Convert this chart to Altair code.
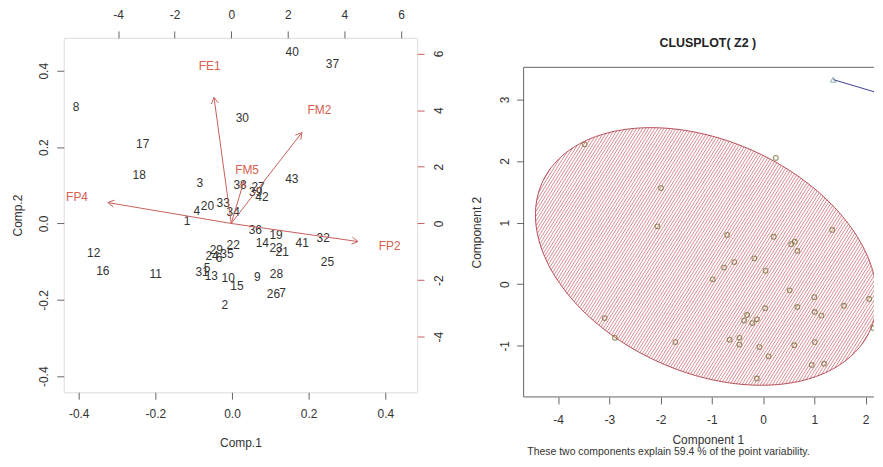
import altair as alt
import numpy as np
import pandas as pd

# ---------------- data: biplot (left) ----------------
obs_ids = [str(i) for i in range(1, 44)]
comp1 = [-0.117, -0.019, -0.084, -0.092, -0.065, -0.034, 0.132, -0.407, 0.066, -0.010,
         -0.199, -0.361, -0.054, 0.079, 0.013, -0.337, -0.233, -0.242, 0.115, -0.064,
         0.131, 0.003, 0.115, -0.052, 0.249, 0.108, 0.068, 0.116, -0.041, 0.027,
         -0.078, 0.238, -0.023, 0.003, -0.013, 0.061, 0.262, 0.021, 0.062, 0.157,
         0.183, 0.078, 0.156]
comp2 = [0.007, -0.213, 0.105, 0.033, -0.117, -0.091, -0.181, 0.306, -0.139, -0.144,
         -0.132, -0.078, -0.138, -0.052, -0.164, -0.124, 0.209, 0.126, -0.031, 0.046,
         -0.074, -0.057, -0.065, -0.085, -0.100, -0.185, 0.096, -0.132, -0.070, 0.276,
         -0.126, -0.039, 0.054, 0.030, -0.080, -0.017, 0.418, 0.102, 0.082, 0.448,
         -0.052, 0.069, 0.116]

var_names = ["FE1", "FM2", "FM5", "FP4", "FP2"]
load1 = [-0.76, 3.12, 0.56, -5.45, 5.60]
load2 = [5.56, 4.01, 1.87, 0.92, -0.80]

# ---------------- data: clusplot (right) ----------------
clus_x = [-3.48, 0.25, -1.99, -2.06, -0.70, 0.21, 1.35, 0.55, 0.62, 0.67,
          -0.56, -0.76, -0.17, 0.05, -0.98, 0.52, 1.00, 2.07, 1.58, 0.04,
          0.67, 1.01, 1.14, 2.15, -3.09, -2.89, -1.71, -0.31, -0.37, -0.21,
          -0.12, -0.65, -0.46, -0.46, -0.07, 0.61, 1.01, 0.11, 0.95, 1.19, -0.12]
clus_y = [2.27, 2.05, 1.56, 0.94, 0.80, 0.77, 0.88, 0.65, 0.69, 0.54,
          0.36, 0.27, 0.42, 0.22, 0.08, -0.10, -0.21, -0.24, -0.35, -0.39,
          -0.37, -0.45, -0.51, -0.71, -0.55, -0.87, -0.94, -0.50, -0.59, -0.63,
          -0.57, -0.90, -0.87, -0.98, -1.02, -0.99, -0.94, -1.17, -1.31, -1.29, -1.53]
tri_x = [1.37, 2.26]
tri_y = [3.32, 3.10]
ell_center = (-1.11, 0.45)
ell_axes = (3.43, 1.92)
ell_angle_deg = -16.9

# ---------------- style ----------------
FONT = "Liberation Sans"
TXT = "#333333"
AX = "#666666"
RED_TXT = "#d9604f"
RED_LN = "#c95f5a"

# ---------------- left panel ----------------
WL, HL = 355, 356
sc_x = alt.Scale(domain=[-0.439, 0.483], nice=False, zero=False)
sc_y = alt.Scale(domain=[-0.442, 0.486], nice=False, zero=False)
ld_x = alt.Scale(domain=[-5.92, 6.57], nice=False, zero=False)
ld_y = alt.Scale(domain=[-5.96, 6.55], nice=False, zero=False)

dec_expr = "(datum.value < 0 ? '-' : '') + format(abs(datum.value), '.1f')"
int_expr = "(datum.value < 0 ? '-' : '') + format(abs(datum.value), 'd')"
common_ax = dict(grid=False, domain=False, tickSize=7, labelFont=FONT, labelFontSize=12,
                 labelColor=TXT, titleFont=FONT, titleFontSize=12, titleFontWeight="normal",
                 titleColor=TXT, tickColor=AX)

ax_bottom = alt.Axis(orient="bottom", values=[-0.4, -0.2, 0, 0.2, 0.4], labelExpr=dec_expr,
                     title="Comp.1", labelPadding=9.5, titlePadding=18, **common_ax)
ax_left = alt.Axis(orient="left", values=[-0.4, -0.2, 0, 0.2, 0.4], labelExpr=dec_expr,
                   title="Comp.2", labelAngle=270, labelAlign="center", labelBaseline="bottom",
                   labelPadding=6, titlePadding=13, **common_ax)
ax_top = alt.Axis(orient="top", values=[-4, -2, 0, 2, 4, 6], labelExpr=int_expr, title=None,
                  labelPadding=9.5, **common_ax)
common_ax_r = dict(common_ax)
common_ax_r["tickColor"] = RED_LN
ax_right = alt.Axis(orient="right", values=[-4, -2, 0, 2, 4, 6], labelExpr=int_expr, title=None,
                    labelAngle=270, labelAlign="center", labelBaseline="top", labelPadding=10,
                    **common_ax_r)

scores = pd.DataFrame({"id": obs_ids, "c1": comp1, "c2": comp2})
score_layer = alt.Chart(scores).mark_text(font=FONT, fontSize=12, color=TXT).encode(
    x=alt.X("c1:Q", scale=sc_x, axis=ax_bottom),
    y=alt.Y("c2:Q", scale=sc_y, axis=ax_left),
    text="id:N",
)

# arrows: R's biplot draws arrows to 0.8 * loading and writes the label at the loading
L = np.column_stack([load1, load2])
tips = 0.8 * L
head_len = 0.25
segs = []
for (tx, ty) in tips:
    segs.append((0.0, 0.0, tx, ty))
    ang = np.arctan2(ty, tx)
    for s in (+1, -1):
        a2 = ang + np.pi + s * np.deg2rad(30)
        segs.append((tx, ty, tx + head_len * np.cos(a2), ty + head_len * np.sin(a2)))
seg_df = pd.DataFrame(segs, columns=["x", "y", "x2", "y2"])
arrow_layer = alt.Chart(seg_df).mark_rule(color=RED_LN, strokeWidth=1).encode(
    x=alt.X("x:Q", scale=ld_x, axis=ax_top),
    y=alt.Y("y:Q", scale=ld_y, axis=ax_right),
    x2="x2:Q", y2="y2:Q",
)
load_df = pd.DataFrame({"var": var_names, "l1": load1, "l2": load2})
load_text = alt.Chart(load_df).mark_text(font=FONT, fontSize=12, color=RED_TXT).encode(
    x=alt.X("l1:Q", scale=ld_x, axis=ax_top),
    y=alt.Y("l2:Q", scale=ld_y, axis=ax_right),
    text="var:N",
)
left = alt.layer(score_layer, alt.layer(arrow_layer, load_text)).resolve_scale(
    x="independent", y="independent").properties(width=WL, height=HL)

# ---------------- right panel ----------------
WR, HR = 352, 360.7
px_per_x, px_per_y = 51.5, 61.9
rx0 = -4.67
rx1 = rx0 + WR / px_per_x
ry0 = -1.83
ry1 = ry0 + HR / px_per_y
frame_top = 3.52
rsx = alt.Scale(domain=[rx0, rx1], nice=False, zero=False)
rsy = alt.Scale(domain=[ry0, ry1], nice=False, zero=False)
frame_mid = HR - (HR - (ry1 - frame_top) * px_per_y) / 2

rax_bottom = alt.Axis(orient="bottom", values=[-4, -3, -2, -1, 0, 1, 2], labelExpr=int_expr,
                      title="Component 1", labelPadding=10.5, titlePadding=9, titleX=185,
                      **common_ax)
rax_left = alt.Axis(orient="left", values=[-1, 0, 1, 2, 3], labelExpr=int_expr,
                    title="Component 2", labelAngle=270, labelAlign="center",
                    labelBaseline="bottom", labelPadding=5, titlePadding=15,
                    titleY=frame_mid, **common_ax)

# ellipse outline
cx, cy = ell_center
ea, eb = ell_axes
th = np.deg2rad(ell_angle_deg)
tt = np.linspace(0, 2 * np.pi, 241)
ex = cx + ea * np.cos(tt) * np.cos(th) - eb * np.sin(tt) * np.sin(th)
ey = cy + ea * np.cos(tt) * np.sin(th) + eb * np.sin(tt) * np.cos(th)
ell_df = pd.DataFrame({"x": ex, "y": ey, "o": np.arange(len(tt))})

# hatch lines (density shading) clipped to the ellipse
Rm = np.array([[np.cos(th), -np.sin(th)], [np.sin(th), np.cos(th)]])
M = Rm @ np.diag([1 / ea ** 2, 1 / eb ** 2]) @ Rm.T
phi = np.deg2rad(58)
dvec = np.array([np.cos(phi) / px_per_x, np.sin(phi) / px_per_y])
nvec = np.array([-np.sin(phi), np.cos(phi)])
step = 2.6
hatch = []
for k in range(-250, 251):
    off = k * step
    p0 = np.array([cx + off * nvec[0] / px_per_x, cy + off * nvec[1] / px_per_y])
    q = p0 - np.array([cx, cy])
    A = dvec @ M @ dvec
    B = 2 * (q @ M @ dvec)
    C = q @ M @ q - 1
    disc = B * B - 4 * A * C
    if disc <= 0:
        continue
    r = np.sqrt(disc)
    t1, t2 = (-B - r) / (2 * A), (-B + r) / (2 * A)
    a1, a2 = p0 + t1 * dvec, p0 + t2 * dvec
    hatch.append((a1[0], a1[1], a2[0], a2[1]))
hatch_df = pd.DataFrame(hatch, columns=["x", "y", "x2", "y2"])

hatch_layer = alt.Chart(hatch_df).mark_rule(color="#c4545d", strokeWidth=1.0, opacity=0.68,
                                            clip=True).encode(
    x=alt.X("x:Q", scale=rsx, axis=rax_bottom),
    y=alt.Y("y:Q", scale=rsy, axis=rax_left),
    x2="x2:Q", y2="y2:Q",
)
ell_line = alt.Chart(ell_df).mark_line(color="#b03c46", strokeWidth=0.9, clip=True).encode(
    x=alt.X("x:Q", scale=rsx, axis=rax_bottom),
    y=alt.Y("y:Q", scale=rsy, axis=rax_left),
    order="o:Q",
)

frame_df = pd.DataFrame({
    "x": [rx0, rx0, rx0], "x2": [rx1, rx0, rx1],
    "y": [frame_top, ry0, ry0], "y2": [frame_top, frame_top, ry0],
})
frame_layer = alt.Chart(frame_df).mark_rule(color=AX, strokeWidth=1).encode(
    x=alt.X("x:Q", scale=rsx, axis=rax_bottom),
    y=alt.Y("y:Q", scale=rsy, axis=rax_left),
    x2="x2:Q", y2="y2:Q",
)

pts_df = pd.DataFrame({"x": clus_x, "y": clus_y})
pts_layer = alt.Chart(pts_df).mark_point(shape="circle", filled=False, size=22,
                                         color="#6f6428", strokeWidth=1.1, clip=True).encode(
    x=alt.X("x:Q", scale=rsx, axis=rax_bottom),
    y=alt.Y("y:Q", scale=rsy, axis=rax_left),
)
tri_df = pd.DataFrame({"x": tri_x, "y": tri_y})
tri_line = alt.Chart(tri_df).mark_line(color="#3b3f96", strokeWidth=1, clip=True).encode(
    x=alt.X("x:Q", scale=rsx, axis=rax_bottom),
    y=alt.Y("y:Q", scale=rsy, axis=rax_left),
)
tri_pts = alt.Chart(tri_df).transform_filter(alt.datum.x <= rx1).mark_point(
    shape="triangle-up", filled=False, size=34, color="#5d8c88", strokeWidth=1, clip=True
).encode(
    x=alt.X("x:Q", scale=rsx, axis=rax_bottom),
    y=alt.Y("y:Q", scale=rsy, axis=rax_left),
)

title_df = pd.DataFrame({"t": ["CLUSPLOT( Z2 )"]})
title_layer = alt.Chart(title_df).mark_text(font=FONT, fontSize=12.5, fontWeight="bold",
                                            color="#222222", baseline="middle").encode(
    x=alt.value(185), y=alt.value(4.7), text="t:N")
sub_df = pd.DataFrame({"t": ["These two components explain 59.4 % of the point variability."]})
sub_layer = alt.Chart(sub_df).mark_text(font=FONT, fontSize=10.5, color=TXT,
                                        baseline="middle").encode(
    x=alt.value(145.5), y=alt.value(416), text="t:N")

right = alt.layer(hatch_layer, ell_line, frame_layer, pts_layer, tri_line, tri_pts,
                  title_layer, sub_layer).properties(
    width=WR, height=HR, view=alt.ViewBackground(stroke="transparent"))

chart = alt.hconcat(left, right, spacing=24).properties(
    padding={"left": 3, "top": -1, "right": 0, "bottom": 0}
).configure_view(stroke=AX, strokeWidth=1).configure(background="white")

chart.save("out.html", embed_options={"renderer": "svg", "actions": False})
